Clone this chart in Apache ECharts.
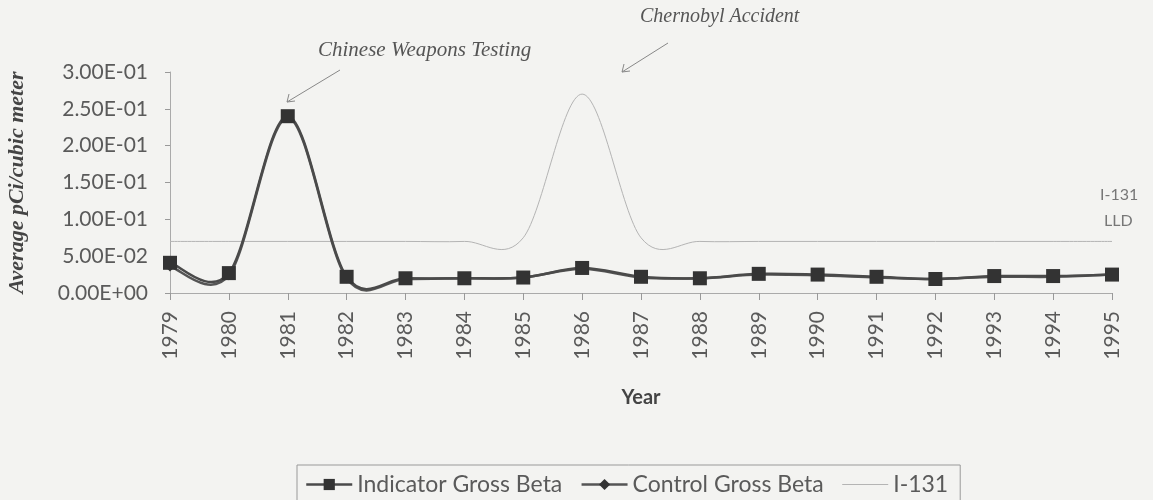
<!DOCTYPE html>
<html>
<head>
<meta charset="utf-8">
<script src="https://cdn.jsdelivr.net/npm/echarts@6/dist/echarts.min.js"></script>
<style>
  html, body { margin: 0; padding: 0; background: #f3f3f1; }
  #chart { width: 1153px; height: 500px; }
</style>
</head>
<body>
<div id="chart"></div>
<script>
const years = ['1979', '1980', '1981', '1982', '1983', '1984', '1985', '1986', '1987',
  '1988', '1989', '1990', '1991', '1992', '1993', '1994', '1995'];
const indicatorBeta = [0.041, 0.027, 0.240, 0.022, 0.020, 0.020, 0.021, 0.034, 0.022,
  0.020, 0.026, 0.025, 0.022, 0.019, 0.023, 0.023, 0.025];
const controlBeta = [0.036, 0.024, 0.238, 0.020, 0.019, 0.020, 0.021, 0.033, 0.021,
  0.020, 0.025, 0.024, 0.021, 0.019, 0.022, 0.022, 0.025];
const i131 = [0.07, 0.07, 0.07, 0.07, 0.07, 0.07, 0.075, 0.27, 0.075,
  0.07, 0.07, 0.07, 0.07, 0.07, 0.07, 0.07, 0.07];

const sansFont = 'Lato, "Open Sans", sans-serif';
const serifFont = '"Liberation Serif", "DejaVu Serif", serif';
const grey = '#5a5a5a';

// 3.00E-01 style labels
function sciLabel(v) {
  const s = v.toExponential(2).toUpperCase();
  const parts = s.split('E');
  let exp = parts[1];
  const sign = exp[0] === '-' ? '-' : '+';
  exp = exp.replace(/[+-]/, '');
  if (exp.length < 2) exp = '0' + exp;
  return parts[0] + 'E' + sign + exp;
}

// spreadsheet-style smoothed line (catmull-rom through the points)
function splineSeries(values, color, width) {
  return {
    type: 'custom',
    coordinateSystem: 'cartesian2d',
    silent: true,
    data: [[0, values[0]]],
    renderItem: function (params, api) {
      const pts = values.map((v, i) => api.coord([i, v]));
      let d = 'M' + pts[0][0] + ' ' + pts[0][1];
      for (let i = 0; i < pts.length - 1; i++) {
        const p0 = pts[Math.max(i - 1, 0)];
        const p1 = pts[i];
        const p2 = pts[i + 1];
        const p3 = pts[Math.min(i + 2, pts.length - 1)];
        const c1x = p1[0] + (p2[0] - p0[0]) / 6;
        const c1y = p1[1] + (p2[1] - p0[1]) / 6;
        const c2x = p2[0] - (p3[0] - p1[0]) / 6;
        const c2y = p2[1] - (p3[1] - p1[1]) / 6;
        d += ' C' + c1x + ' ' + c1y + ' ' + c2x + ' ' + c2y + ' ' + p2[0] + ' ' + p2[1];
      }
      return {
        type: 'path',
        shape: { pathData: d },
        style: { fill: null, stroke: color, lineWidth: width }
      };
    }
  };
}

const chart = echarts.init(document.getElementById('chart'));

const option = {
  backgroundColor: '#f3f3f1',
  animation: false,
  grid: { left: 170, right: 41, top: 72, bottom: 207, outerBoundsMode: 'none' },
  xAxis: {
    type: 'category',
    data: years,
    boundaryGap: false,
    name: 'Year',
    nameLocation: 'middle',
    nameGap: 95,
    nameTextStyle: { fontFamily: sansFont, fontWeight: 'bold', fontSize: 20, color: '#444' },
    axisLine: { lineStyle: { color: '#aaa', width: 1 } },
    axisTick: { length: 7, lineStyle: { color: '#999' } },
    axisLabel: { rotate: 90, fontFamily: sansFont, fontSize: 21, color: grey, margin: 18 },
    splitLine: { show: false }
  },
  yAxis: {
    type: 'value',
    min: 0,
    max: 0.3,
    interval: 0.05,
    name: 'Average pCi/cubic meter',
    nameLocation: 'middle',
    nameGap: 142,
    nameTextStyle: { fontFamily: serifFont, fontStyle: 'italic', fontWeight: 'bold', fontSize: 22, color: '#444' },
    axisLine: { show: true, lineStyle: { color: '#aaa', width: 1 } },
    axisTick: { show: true, length: 5, lineStyle: { color: '#999' } },
    axisLabel: { formatter: sciLabel, fontFamily: sansFont, fontSize: 21, color: grey, margin: 22 },
    splitLine: { show: false }
  },
  legend: {
    bottom: -4,
    left: 297,
    itemWidth: 46,
    itemHeight: 14,
    itemGap: 18,
    padding: [8, 12, 8, 8],
    borderColor: '#999',
    borderWidth: 1,
    textStyle: { fontFamily: sansFont, fontSize: 23, color: grey },
    data: [
      { name: 'Indicator Gross Beta', lineStyle: { color: '#4a4a4a', width: 2.5, opacity: 1 } },
      { name: 'Control Gross Beta', lineStyle: { color: '#555', width: 2.5, opacity: 1 } },
      { name: 'I-131', lineStyle: { color: '#b4b4b4', width: 1, opacity: 1 }, itemStyle: { opacity: 0 } }
    ]
  },
  series: [
    splineSeries(i131, '#b4b4b4', 1),
    splineSeries(controlBeta, '#555', 2.5),
    splineSeries(indicatorBeta, '#4a4a4a', 2.5),
    {
      name: 'I-131',
      type: 'line',
      data: i131,
      symbol: 'none',
      lineStyle: { color: '#b4b4b4', width: 1, opacity: 0 },
      itemStyle: { color: '#b4b4b4' }
    },
    {
      name: 'Control Gross Beta',
      type: 'line',
      data: controlBeta,
      symbol: 'diamond',
      symbolSize: 10,
      lineStyle: { color: '#555', width: 2, opacity: 0 },
      itemStyle: { color: '#333' }
    },
    {
      name: 'Indicator Gross Beta',
      type: 'line',
      data: indicatorBeta,
      symbol: 'rect',
      symbolSize: 14,
      lineStyle: { color: '#4a4a4a', width: 2, opacity: 0 },
      itemStyle: { color: '#333' }
    }
  ],
  graphic: [
    {
      type: 'text', left: 318, top: 40,
      style: { text: 'Chinese Weapons Testing', font: 'italic 21px ' + serifFont, fill: '#555' }
    },
    {
      type: 'line',
      shape: { x1: 340, y1: 70, x2: 287, y2: 102 },
      style: { stroke: '#888', lineWidth: 1 }
    },
    {
      type: 'polyline',
      shape: { points: [[289, 94], [287, 102], [295, 101]] },
      style: { stroke: '#888', lineWidth: 1, fill: null }
    },
    {
      type: 'text', left: 640, top: 7,
      style: { text: 'Chernobyl Accident', font: 'italic 20px ' + serifFont, fill: '#555' }
    },
    {
      type: 'line',
      shape: { x1: 668, y1: 43, x2: 622, y2: 72 },
      style: { stroke: '#888', lineWidth: 1 }
    },
    {
      type: 'polyline',
      shape: { points: [[624, 64], [622, 72], [630, 71]] },
      style: { stroke: '#888', lineWidth: 1, fill: null }
    },
    {
      type: 'text', left: 1100, top: 182,
      style: { text: 'I-131\n LLD', font: '16px ' + sansFont, fill: '#777', lineHeight: 26 }
    }
  ]
};

chart.setOption(option);
</script>
</body>
</html>
